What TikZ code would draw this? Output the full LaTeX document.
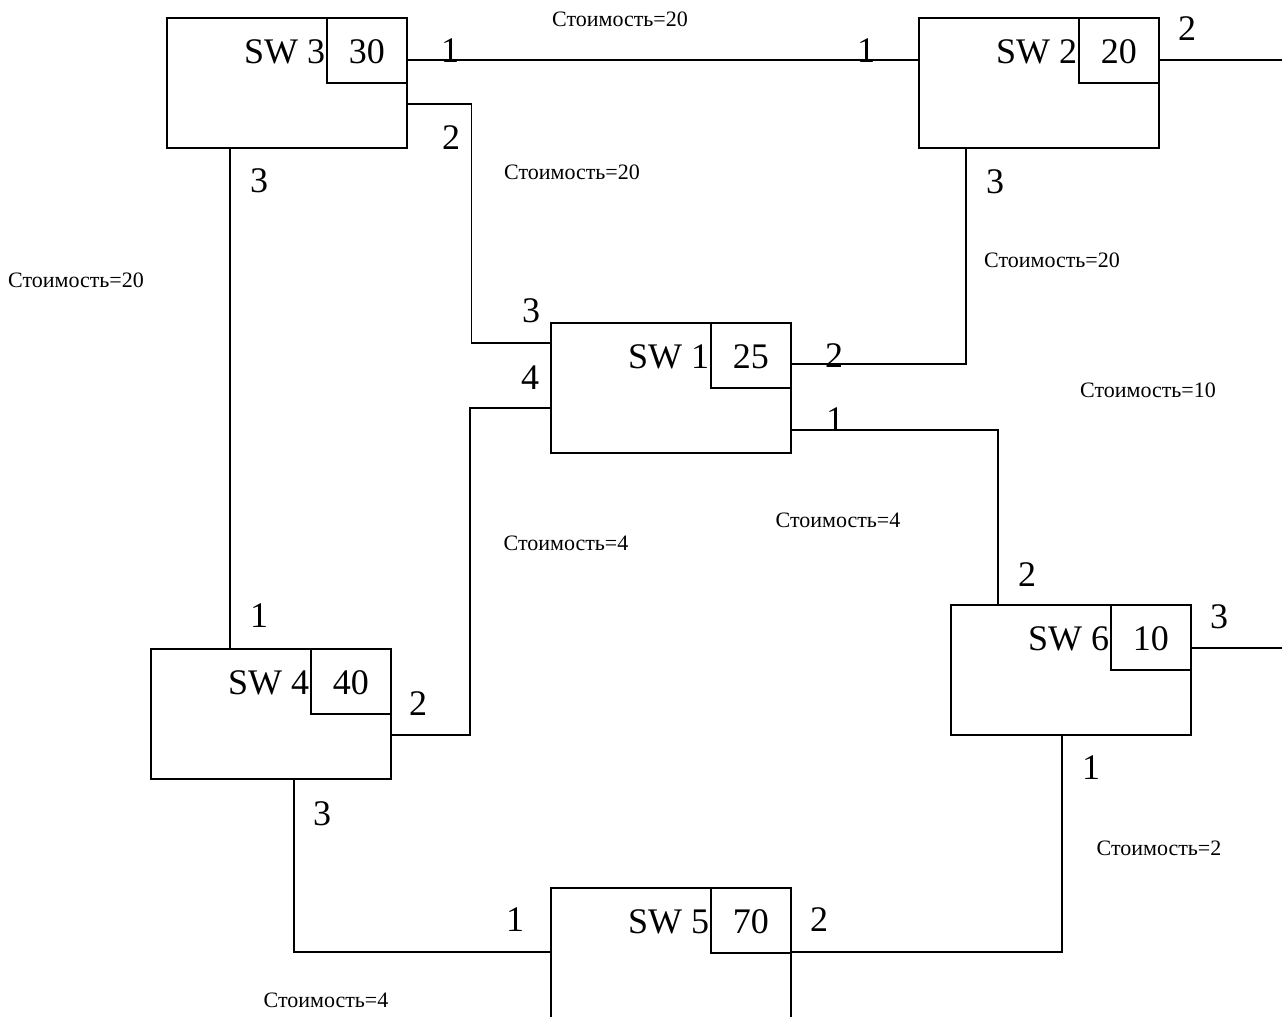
\documentclass[tikz,border=0pt]{standalone}
\usepackage{fontspec}
\setmainfont{Liberation Serif}
\usetikzlibrary{positioning}
\tikzset{
sw_box/.style={
	% the switch body
	rectangle,
	minimum width=180pt,
	minimum height=97.5pt,
	draw, line width=1.2pt,
	inner sep=0pt,
	anchor=north west
},
prio_box/.style={
	% the priority box in the corner
	rectangle,
	minimum width=60pt,
	minimum height=48.75pt,
	draw, line width=1.2pt,
	inner sep=0pt,
	anchor=north east,
	text height=20pt, text depth=0pt,
	font=\fontsize{27}{27}\selectfont
},
sw_name/.style={anchor=base east, inner sep=0pt, xshift=-0.5pt, font=\fontsize{27}{27}\selectfont},
port/.style={inner sep=0pt, font=\fontsize{27}{27}\selectfont},
cost/.style={inner sep=0pt, font=\fontsize{16.5}{16.5}\selectfont},
link/.style={line width=1.1pt}
}

\begin{document}
\begin{tikzpicture}[x=0.75pt,y=-0.75pt]
	\useasboundingbox (0,0) rectangle (1282,1017);
	% switches
	\node[sw_box] (s3) at (166,17) {};
	\node[prio_box] (s3c) at (s3.north east) {30};
	\node[sw_name] (s3n) at (s3c.base west) {SW 3};
	\node[sw_box] (s2) at (918,17) {};
	\node[prio_box] (s2c) at (s2.north east) {20};
	\node[sw_name] (s2n) at (s2c.base west) {SW 2};
	\node[sw_box] (s1) at (550,322) {};
	\node[prio_box] (s1c) at (s1.north east) {25};
	\node[sw_name] (s1n) at (s1c.base west) {SW 1};
	\node[sw_box] (s4) at (150,648) {};
	\node[prio_box] (s4c) at (s4.north east) {40};
	\node[sw_name] (s4n) at (s4c.base west) {SW 4};
	\node[sw_box] (s6) at (950,604) {};
	\node[prio_box] (s6c) at (s6.north east) {10};
	\node[sw_name] (s6n) at (s6c.base west) {SW 6};
	\node[sw_box] (s5) at (550,887) {};
	\node[prio_box] (s5c) at (s5.north east) {70};
	\node[sw_name] (s5n) at (s5c.base west) {SW 5};

	% ports
	\coordinate (s3p1) at ([shift={(0,43)}]s3.north east);
	\coordinate (s3p2) at ([shift={(0,87)}]s3.north east);
	\coordinate (s3p3) at ([shift={(64,0)}]s3.south west);
	\coordinate (s2p1) at ([shift={(0,43)}]s2.north west);
	\coordinate (s2p2) at ([shift={(0,43)}]s2.north east);
	\coordinate (s2p3) at ([shift={(48,0)}]s2.south west);
	\coordinate (s1p3) at ([shift={(0,21)}]s1.north west);
	\coordinate (s1p4) at ([shift={(0,86)}]s1.north west);
	\coordinate (s1p2) at ([shift={(0,42)}]s1.north east);
	\coordinate (s1p1) at ([shift={(0,108)}]s1.north east);
	\coordinate (s4p1) at ([shift={(80,0)}]s4.north west);
	\coordinate (s4p2) at ([shift={(0,87)}]s4.north east);
	\coordinate (s4p3) at ([shift={(144,0)}]s4.south west);
	\coordinate (s6p2) at ([shift={(48,0)}]s6.north west);
	\coordinate (s6p3) at ([shift={(0,44)}]s6.north east);
	\coordinate (s6p1) at ([shift={(112,0)}]s6.south west);
	\coordinate (s5p1) at ([shift={(0,65)}]s5.north west);
	\coordinate (s5p2) at ([shift={(0,65)}]s5.north east);
	\coordinate (e2) at (1282,60);
	\coordinate (e6) at (1282,648);

	% links
	\draw[link] (s3p1) -- (s2p1);
	\draw[link] (s3p2) -- ++(64,0) |- (s1p3);
	\draw[link] (s3p3) -- (s4p1);
	\draw[link] (s2p2) -- (e2);
	\draw[link] (s2p3) |- (s1p2);
	\draw[link] (s1p4) -- ++(-80,0) |- (s4p2);
	\draw[link] (s1p1) -| (s6p2);
	\draw[link] (s6p3) -- (e6);
	\draw[link] (s6p1) |- (s5p2);
	\draw[link] (s4p3) |- (s5p1);

	% port numbers
	\node[port] (n31) at (450,51) {1};
	\node[port] (n32) at (451,138) {2};
	\node[port] (n33) at (259,181) {3};
	\node[port] (n21) at (866,51) {1};
	\node[port] (n22) at (1187,29) {2};
	\node[port] (n23) at (995,182) {3};
	\node[port] (n13) at (531,311) {3};
	\node[port] (n14) at (530,378) {4};
	\node[port] (n12) at (834,356) {2};
	\node[port] (n11) at (835,420) {1};
	\node[port] (n41) at (259,616) {1};
	\node[port] (n42) at (418,704) {2};
	\node[port] (n43) at (322,814) {3};
	\node[port] (n62) at (1027,575) {2};
	\node[port] (n63) at (1219,617) {3};
	\node[port] (n61) at (1091,768) {1};
	\node[port] (n51) at (515,920) {1};
	\node[port] (n52) at (819,920) {2};

	% link costs
	\node[cost] (k32) at (620,19) {Стоимость=20};
	\node[cost] (k31) at (572,172) {Стоимость=20};
	\node[cost] (k34) at (76,280) {Стоимость=20};
	\node[cost] (k21) at (1052,260) {Стоимость=20};
	\node[cost] (k26) at (1148,390) {Стоимость=10};
	\node[cost] (k14) at (566,543) {Стоимость=4};
	\node[cost] (k16) at (838,520) {Стоимость=4};
	\node[cost] (k65) at (1159,848) {Стоимость=2};
	\node[cost] (k45) at (326,1000) {Стоимость=4};
\end{tikzpicture}
\end{document}
